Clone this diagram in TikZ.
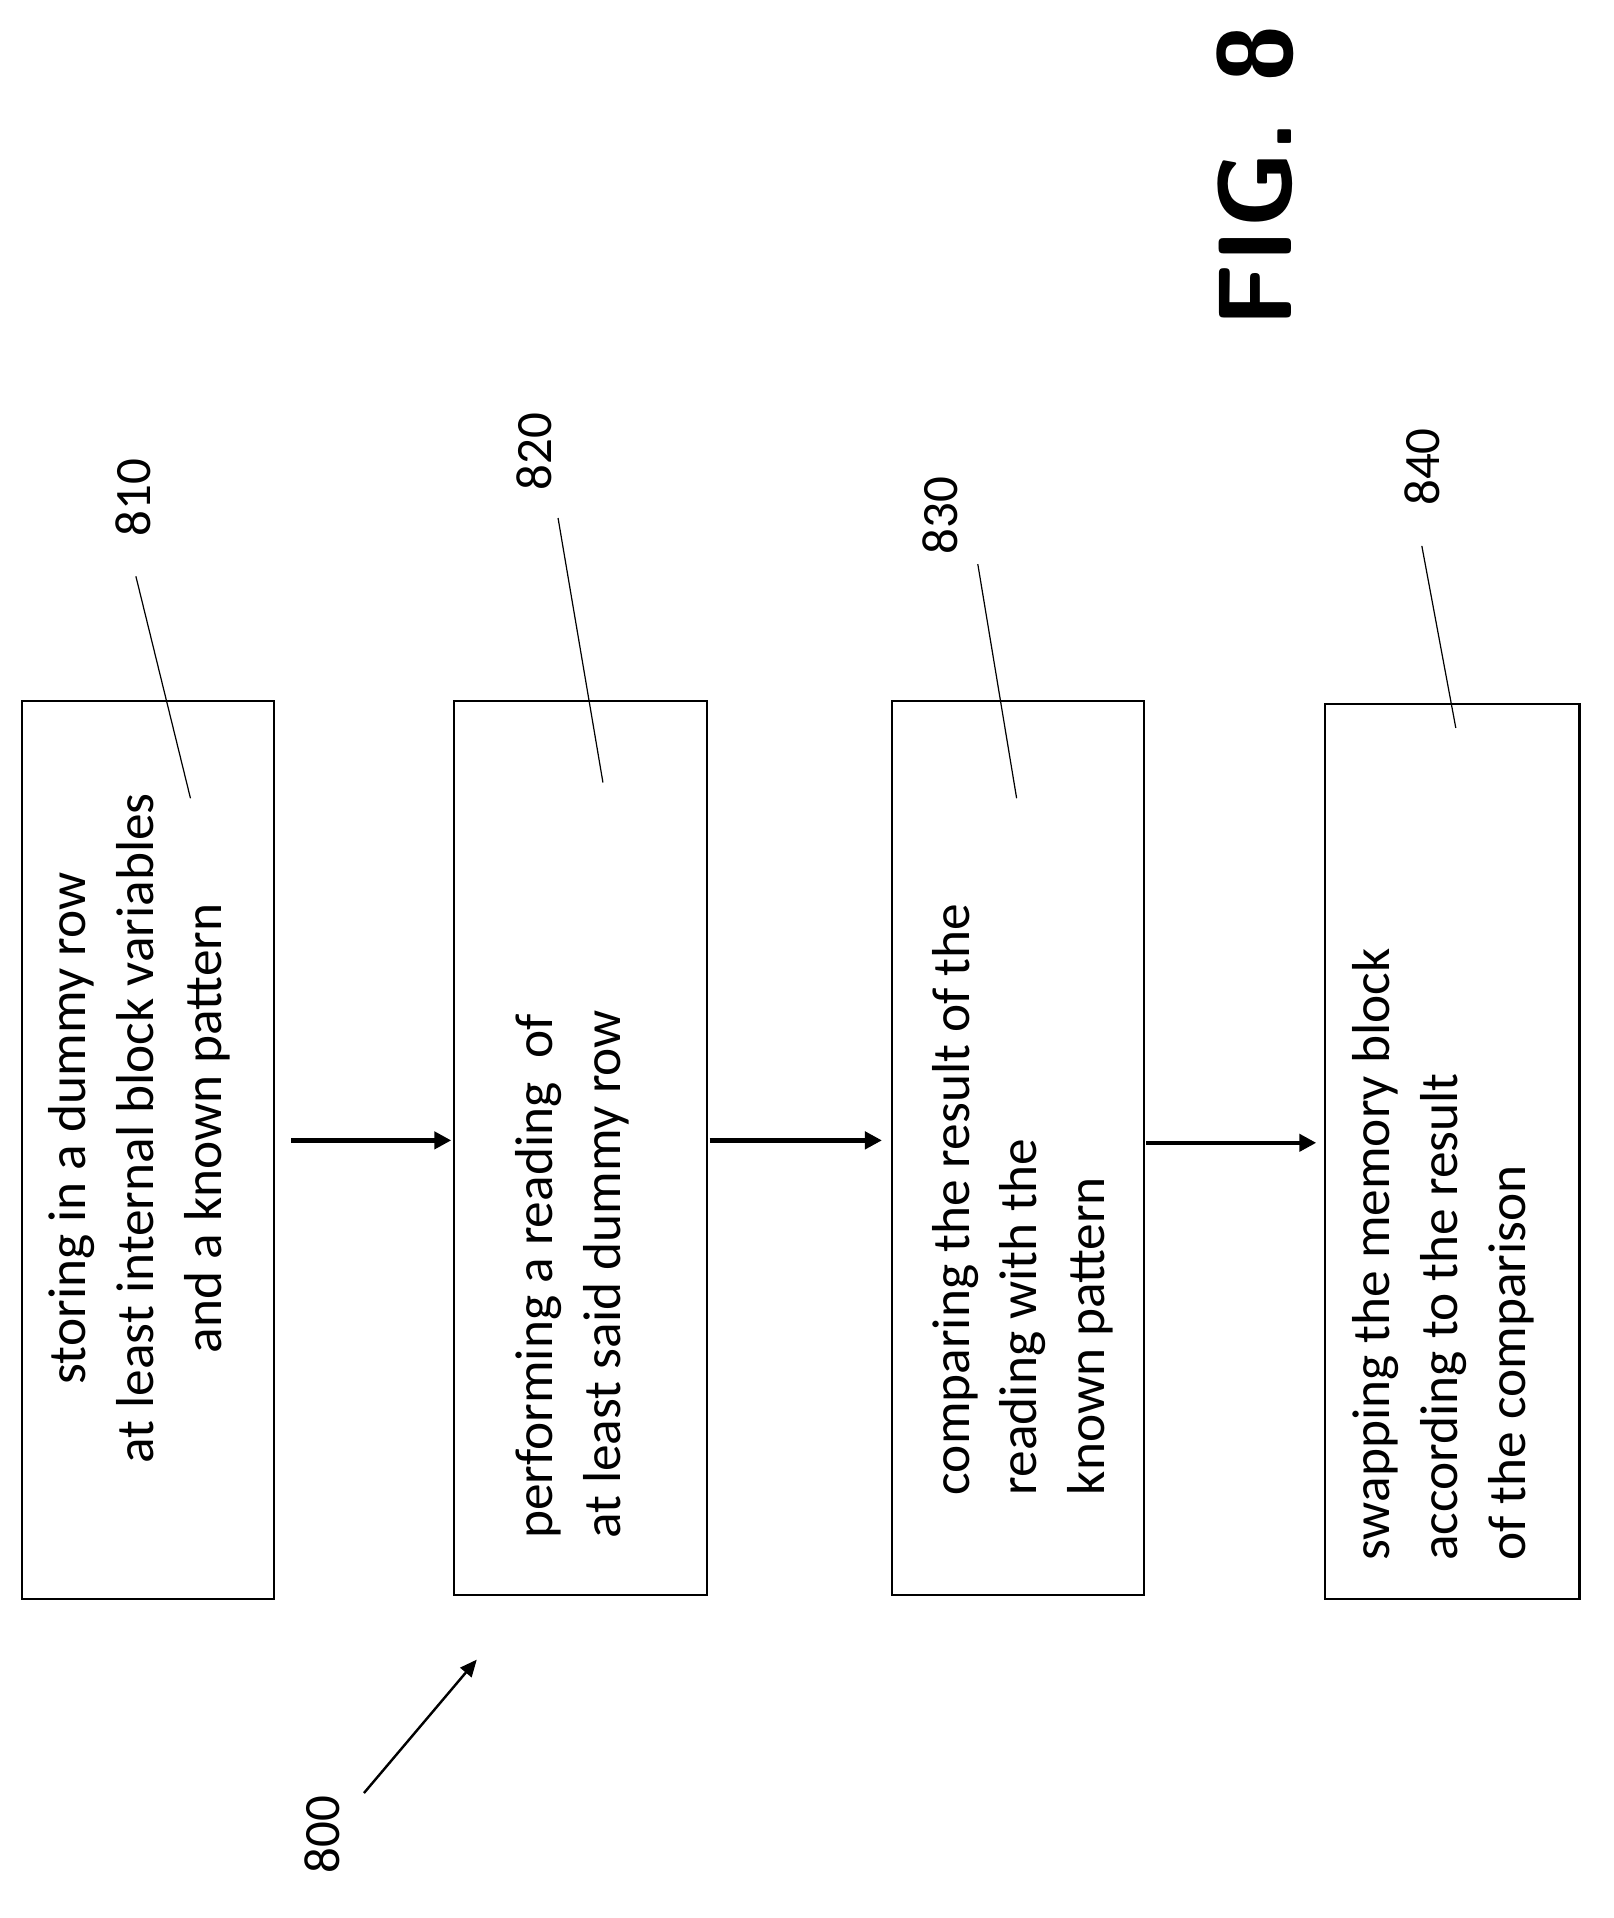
\documentclass[tikz,border=0pt]{standalone}
\usepackage{fontspec}
\setmainfont{Carlito}
\usetikzlibrary{arrows.meta}
\begin{document}
\begin{tikzpicture}[x=1pt,y=-1pt,
  box/.style={draw,line width=1.8pt},
  txt/.style={rotate=90,font=\fontsize{44}{56}\selectfont},
  lab/.style={rotate=90,font=\fontsize{42}{44}\selectfont},
  lead/.style={line width=1pt},
  arr/.style={line width=3.5pt,-{Triangle[length=14pt,width=14pt]}}]
\useasboundingbox (0,0) rectangle (1330,1581);
\draw[box] (18,578) rectangle (226,1318);
\draw[box] (374,578) rectangle (583,1315);
\draw[box] (735,578) rectangle (943,1315);
\draw[box] (1092,580) rectangle (1302,1318);
\node[txt,align=center] (t1) at (115,930) {storing in a dummy row\\at least internal block variables\\and a known pattern};
\node[txt,align=left,anchor=west] (t2) at (472,1272) {performing a reading\ \ of\\at least said dummy row};
\node[txt,align=left,anchor=west] (t3) at (843,1236) {comparing the result of the\\reading with the\\known pattern};
\node[txt,align=left,anchor=west] (t4) at (1190,1290) {swapping the memory block\\according to the result\\of the comparison};
\coordinate (a1) at (240,940); \coordinate (b1) at (372,940);
\coordinate (a2) at (585,940); \coordinate (b2) at (727,940);
\coordinate (a3) at (945,942); \coordinate (b3) at (1085,942);
\draw[arr] (a1) -- (b1); \draw[arr] (a2) -- (b2); \draw[arr] (a3) -- (b3);
\node[lab] (l810) at (110,410) {810};
\node[lab] (l820) at (440,372) {820};
\node[lab] (l830) at (775,425) {830};
\node[lab] (l840) at (1172,385) {840};
\node[lab] (l800) at (266,1512) {800};
\coordinate (e1) at (157,658); \coordinate (e2) at (497,645);
\coordinate (e3) at (838,658); \coordinate (e4) at (1200,600);
\draw[lead] (112,475) -- (e1);
\draw[lead] (460,427) -- (e2);
\draw[lead] (806,465) -- (e3);
\draw[lead] (1172,450) -- (e4);
\coordinate (e0) at (393,1368);
\draw[line width=2pt,-{Triangle[length=14pt,width=12pt]}] (300,1478) -- (e0);
\node[rotate=90,font=\fontsize{86}{86}\bfseries\sffamily\selectfont] (fig) at (1035,145) {FIG. 8};
\end{tikzpicture}
\end{document}
